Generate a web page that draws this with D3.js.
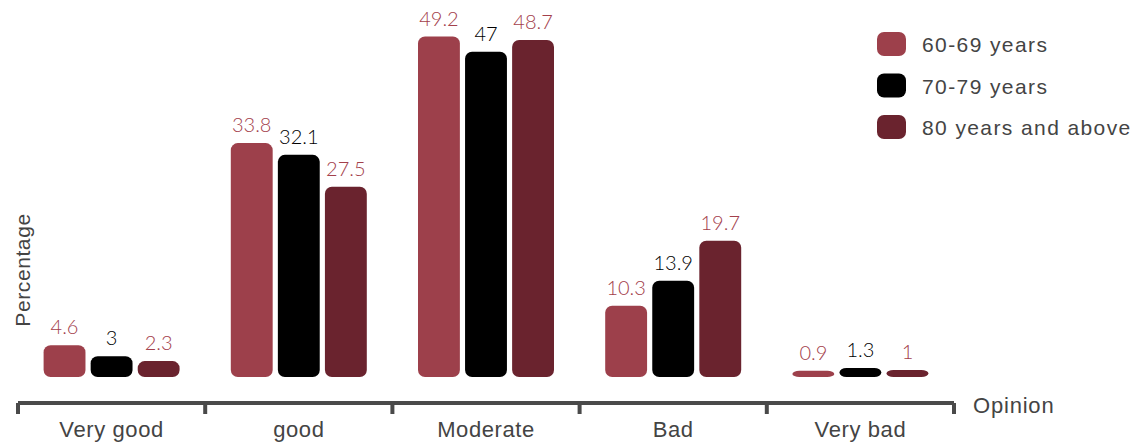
<!DOCTYPE html>
<html>
<head>
<meta charset="utf-8">
<script src="https://cdn.jsdelivr.net/npm/d3@7/dist/d3.min.js"></script>
<style>
  html, body { margin: 0; padding: 0; background: #ffffff; }
  svg { display: block; }
  .axis-text { font-family: "Liberation Sans", Arial, sans-serif; fill: #444444; }
  .value-text { font-family: Lato, "Liberation Sans", sans-serif; font-weight: 300; }
</style>
</head>
<body>
<svg id="chart" width="1143" height="445"></svg>
<script>
// Opinion categories on the x axis
const categories = ["Very good", "good", "Moderate", "Bad", "Very bad"];

// Age groups (series)
const seriesNames = ["60-69 years", "70-79 years", "80 years and above"];

// Percentage per category for each age group
const age60to69 = [4.6, 33.8, 49.2, 10.3, 0.9];
const age70to79 = [3, 32.1, 47, 13.9, 1.3];
const age80plus = [2.3, 27.5, 48.7, 19.7, 1];

const seriesValues = [age60to69, age70to79, age80plus];
const barColors = ["#9d404b", "#000000", "#6a232e"];
const labelColors = ["#a3404b", "#000000", "#a3404b"];

const svg = d3.select("#chart");

const left = 18, right = 954, baseY = 377, axisY = 403;

const x0 = d3.scaleBand().domain(categories).range([left, right]).padding(0);
const groupW = 136;
const x1 = d3.scaleBand().domain(seriesNames).range([0, groupW]).paddingInner(0.11);
const y = d3.scaleLinear().domain([0, 50]).range([baseY, 31]);

const rows = categories.map((c, i) => ({
  cat: c,
  vals: seriesNames.map((s, j) => ({ s, j, v: seriesValues[j][i] }))
}));

const groups = svg.selectAll("g.grp").data(rows).join("g")
  .attr("class", "grp")
  .attr("transform", d => `translate(${x0(d.cat) + (x0.bandwidth() - groupW) / 2},0)`);

groups.selectAll("rect").data(d => d.vals).join("rect")
  .attr("x", d => x1(d.s))
  .attr("y", d => y(d.v))
  .attr("width", x1.bandwidth())
  .attr("height", d => baseY - y(d.v))
  .attr("rx", 7).attr("ry", 7)
  .attr("fill", d => barColors[d.j]);

groups.selectAll("text").data(d => d.vals).join("text")
  .attr("class", "value-text")
  .attr("x", d => x1(d.s) + x1.bandwidth() / 2)
  .attr("y", d => y(d.v) - 11)
  .attr("text-anchor", "middle")
  .attr("font-size", 20)
  .attr("fill", d => labelColors[d.j])
  .text(d => d.v);

// Bottom axis: ticks at the category boundaries, labels centred in each band
const axis = d3.axisBottom(x0).tickSize(0).tickPadding(0);
const axisG = svg.append("g").attr("transform", `translate(0,${axisY})`).call(axis);
axisG.select(".domain").remove();
axisG.selectAll(".tick text")
  .attr("class", "axis-text")
  .attr("font-size", 22)
  .attr("letter-spacing", 0.6)
  .attr("dy", 0)
  .attr("y", 34);

const boundaries = categories.map(c => x0(c)).concat([x0.range()[1]]);
axisG.append("line")
  .attr("x1", left).attr("x2", right)
  .attr("y1", 0).attr("y2", 0)
  .attr("stroke", "#4a4a4a").attr("stroke-width", 4);
axisG.selectAll("line.bound").data(boundaries).join("line")
  .attr("class", "bound")
  .attr("x1", d => d).attr("x2", d => d)
  .attr("y1", 0).attr("y2", 11)
  .attr("stroke", "#4a4a4a").attr("stroke-width", 4);

svg.append("text")
  .attr("class", "axis-text")
  .attr("x", 973).attr("y", 413)
  .attr("font-size", 22)
  .attr("letter-spacing", 0.8)
  .text("Opinion");

svg.append("text")
  .attr("class", "axis-text")
  .attr("transform", "translate(30,270) rotate(-90)")
  .attr("text-anchor", "middle")
  .attr("font-size", 21)
  .attr("letter-spacing", 0.6)
  .text("Percentage");

// Legend
const legend = svg.append("g").attr("transform", "translate(877,32)");
const items = legend.selectAll("g").data(seriesNames).join("g")
  .attr("transform", (d, i) => `translate(0,${i * 41.5})`);
items.append("rect")
  .attr("width", 29).attr("height", 24)
  .attr("rx", 7).attr("ry", 7)
  .attr("fill", (d, i) => barColors[i]);
items.append("text")
  .attr("class", "axis-text")
  .attr("x", 45).attr("y", 20)
  .attr("font-size", 21)
  .attr("letter-spacing", 1.4)
  .text(d => d);
</script>
</body>
</html>
